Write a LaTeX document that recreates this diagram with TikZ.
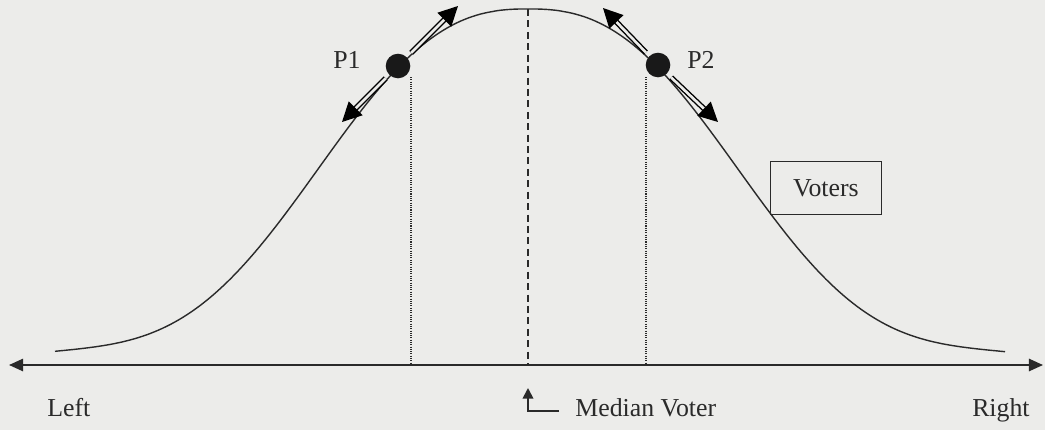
\documentclass[tikz,border=0pt]{standalone}
\usepackage{fontspec}
\setmainfont{Liberation Serif}
\usetikzlibrary{arrows.meta,calc}
\definecolor{bg}{HTML}{ECECEA}
\definecolor{ink}{HTML}{2A2A2A}
\tikzset{
  axisline/.style={draw=ink, line width=1pt, {Triangle[length=8pt,width=7pt]}-{Triangle[length=8pt,width=7pt]}},
  curveline/.style={draw=ink, line width=0.8pt},
  dotline/.style={draw=ink, line width=0.7pt, dash pattern=on 0.6pt off 0.7pt},
  dashline/.style={draw=ink, line width=0.8pt, dash pattern=on 4pt off 2.5pt},
  party/.style={circle, fill=black!90, minimum size=14pt, inner sep=0pt},
  movearrow/.style={draw=black, double=bg, double distance=1.5pt, line width=0.8pt, -{Triangle[length=11pt,width=11pt]}},
  lbl/.style={text=ink, font=\fontsize{14.7}{17}\selectfont, inner sep=0pt},
  labelbox/.style={draw=ink, line width=0.7pt, minimum width=63pt, minimum height=30pt, text=ink, font=\fontsize{14.7}{17}\selectfont},
}
\begin{document}
\begin{tikzpicture}[x=0.02cm, y=-0.02cm]
\fill[bg] (0,0) rectangle (1045,430);
\useasboundingbox (0,0) rectangle (1045,430);

% axis
\coordinate (axL) at (9,365);
\coordinate (axR) at (1043,365);
\path[axisline] (axL) -- (axR);

% bell curve
\draw[curveline] plot[domain=-473:477, samples=240, smooth]
  (\x+528, {365-356*(exp(-(abs(\x)/258)^2.5)+0.028*exp(-((abs(\x)-470)/110)^2))});

% median line
\coordinate (medtop) at (528,9);
\coordinate (medbot) at (528,364);
\draw[dashline] (medtop) -- (medbot);

% party positions
\node[party] (p1) at (398,66) {};
\node[party] (p2) at (658,65) {};
\coordinate (d1top) at (411,77);
\coordinate (d1bot) at (411,364);
\coordinate (d2top) at (646,77);
\coordinate (d2bot) at (646,364);
\draw[dotline] (d1top) -- (d1bot);
\draw[dotline] (d2top) -- (d2bot);

% movement arrows
\coordinate (p1up) at (458,6);
\coordinate (p1dn) at (342,122);
\coordinate (p2up) at (603,8);
\coordinate (p2dn) at (718,122);
\draw[movearrow] ($(p1)!0.22!(p1up)$) -- (p1up);
\draw[movearrow] ($(p1)!0.22!(p1dn)$) -- (p1dn);
\draw[movearrow] ($(p2)!0.22!(p2up)$) -- (p2up);
\draw[movearrow] ($(p2)!0.22!(p2dn)$) -- (p2dn);

\node[lbl, anchor=base west] (l1) at (333,68) {P1};
\node[lbl, anchor=base west] (l2) at (687,68) {P2};

\node[labelbox] (voters) at (826,188) {Voters};

\node[lbl, anchor=base west] (left) at (47,416) {Left};
\node[lbl, anchor=base east] (right) at (1030,416) {Right};
\node[lbl, anchor=base west] (median) at (575,416) {Median Voter};
\coordinate (medarrow) at (528,388);
\coordinate (medfoot) at (559,411);
\draw[draw=ink, line width=1pt, -{Triangle[length=6pt,width=6pt]}] (medfoot) -| (medarrow);
\end{tikzpicture}
\end{document}
